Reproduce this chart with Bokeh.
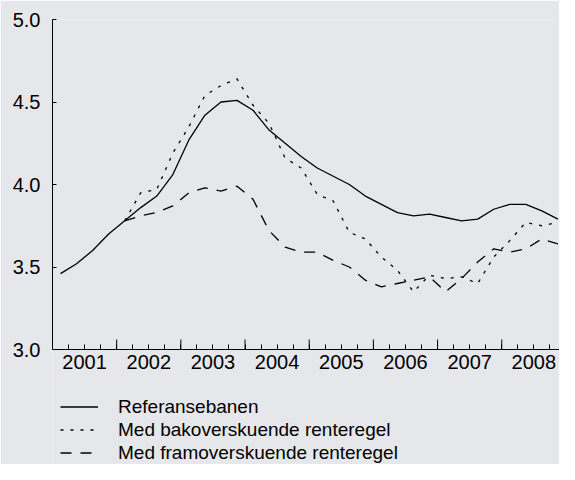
from bokeh.plotting import figure
from bokeh.models import (Range1d, LinearAxis, FixedTicker, PrintfTickFormatter,
                          CustomJSTickFormatter, Legend, LegendItem)
from bokeh.embed import file_html
from bokeh.resources import INLINE

# ---- data ----
years = [2001, 2002, 2003, 2004, 2005, 2006, 2007, 2008]
quarters = [y + (q - 0.5) / 4 for y in years for q in range(1, 5)]

referansebanen = [3.46, 3.52, 3.60, 3.70, 3.78, 3.86, 3.93, 4.06,
                  4.27, 4.42, 4.50, 4.51, 4.45, 4.33, 4.25, 4.17,
                  4.10, 4.05, 4.00, 3.93, 3.88, 3.83, 3.81, 3.82,
                  3.80, 3.78, 3.79, 3.85, 3.88, 3.88, 3.84, 3.79]

bakover = [None, None, None, None, 3.78, 3.95, 3.97, 4.19,
           4.35, 4.54, 4.60, 4.64, 4.48, 4.37, 4.16, 4.10,
           3.94, 3.90, 3.71, 3.67, 3.56, 3.48, 3.35, 3.45,
           3.43, 3.44, 3.40, 3.56, 3.66, 3.77, 3.75, 3.77]

framover = [None, None, None, None, 3.78, 3.81, 3.83, 3.87,
            3.95, 3.98, 3.96, 3.99, 3.91, 3.72, 3.62, 3.59,
            3.59, 3.54, 3.50, 3.42, 3.38, 3.40, 3.42, 3.44,
            3.35, 3.43, 3.53, 3.61, 3.59, 3.61, 3.67, 3.64]

labels = ["Referansebanen",
          "Med bakoverskuende renteregel",
          "Med framoverskuende renteregel"]

y_ticks = [3.0, 3.5, 4.0, 4.5, 5.0]

BG = "#e6e7ea"
FONT = "Liberation Sans"

W, H = 559, 464
TOP, LEFT = 19, 52
PX_PER_UNIT = 165.0          # vertical pixels per 1.0 on the value axis
frame_h = H - TOP
y_min = y_ticks[-1] - frame_h / PX_PER_UNIT   # frame extends below 3.0 to hold the legend

p = figure(width=W, height=H, output_backend="svg", toolbar_location=None,
           x_axis_location=None,
           x_range=Range1d(2001, 2008.9), y_range=Range1d(y_min, y_ticks[-1]),
           min_border_left=LEFT, min_border_top=TOP, min_border_right=0,
           min_border_bottom=0)
p.background_fill_color = BG
p.border_fill_color = BG
p.outline_line_color = None
p.xgrid.visible = False
p.ygrid.visible = False

def pairs(xs, ys):
    xx = [x for x, y in zip(xs, ys) if y is not None]
    yy = [y for y in ys if y is not None]
    return xx, yy

x0, y0 = pairs(quarters, referansebanen)
x1, y1 = pairs(quarters, bakover)
x2, y2 = pairs(quarters, framover)

r0 = p.line(x0, y0, line_color="black", line_width=1.3)
r1 = p.line(x1, y1, line_color="black", line_width=1.3, line_dash="3 7")
r2 = p.line(x2, y2, line_color="black", line_width=1.3, line_dash="11 9")

# long year-boundary ticks (10 px, pointing inward)
tick_len = 10 / PX_PER_UNIT
p.segment(x0=years[1:], y0=[y_ticks[0]] * (len(years) - 1),
          x1=years[1:], y1=[y_ticks[0] + tick_len] * (len(years) - 1),
          line_color="black", line_width=1)

# y axis
ya = p.yaxis[0]
ya.bounds = (y_ticks[0], y_ticks[-1])
ya.ticker = FixedTicker(ticks=y_ticks, minor_ticks=[])
ya.formatter = PrintfTickFormatter(format="%.1f")
ya.major_tick_in = 4
ya.major_tick_out = 0
ya.minor_tick_in = 0
ya.minor_tick_out = 0
ya.major_label_standoff = 12
ya.major_label_text_font = FONT
ya.major_label_text_font_size = "20px"
ya.major_label_text_color = "black"
ya.axis_line_color = "black"
ya.major_tick_line_color = "black"

# x axis at value 3.0: year labels centred in each year, quarter ticks as minor ticks
minor = [y + q / 4 for y in years for q in range(0, 4)] + [years[-1] + 1]
xa = LinearAxis(fixed_location=y_ticks[0],
                ticker=FixedTicker(ticks=[y + 0.5 for y in years], minor_ticks=minor),
                formatter=CustomJSTickFormatter(code="return String(Math.floor(tick));"),
                major_tick_in=0, major_tick_out=0, major_tick_line_color=None,
                minor_tick_in=5, minor_tick_out=0, minor_tick_line_color="black",
                axis_line_color="black",
                major_label_standoff=5,
                major_label_text_font=FONT, major_label_text_font_size="20px",
                major_label_text_color="black")
p.add_layout(xa, "below")

legend = Legend(items=[LegendItem(label=labels[0], renderers=[r0]),
                       LegendItem(label=labels[1], renderers=[r1]),
                       LegendItem(label=labels[2], renderers=[r2])],
                location=(8, 0), orientation="vertical",
                glyph_width=38, glyph_height=23, label_height=23,
                label_standoff=20, spacing=0, padding=0, margin=0,
                label_text_font=FONT, label_text_font_size="19px",
                label_text_color="black",
                border_line_color=None, background_fill_alpha=0)
p.add_layout(legend, "center")

open("out.html", "w").write(file_html(p, INLINE))
